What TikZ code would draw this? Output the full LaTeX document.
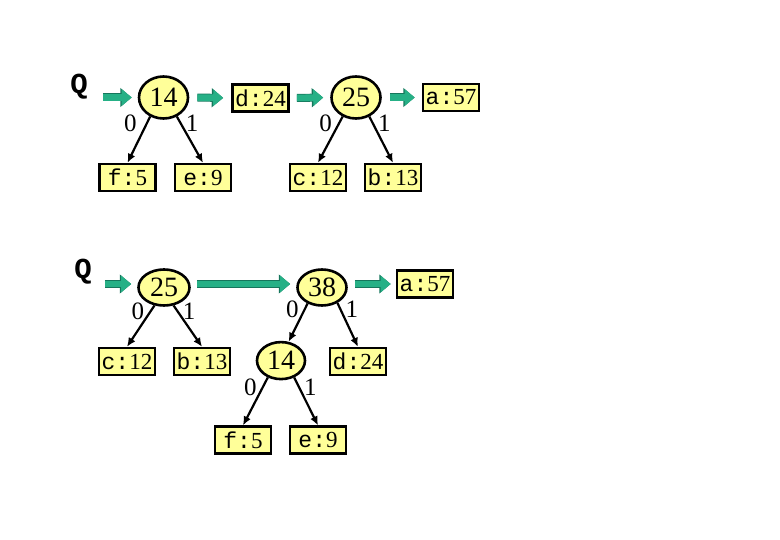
\documentclass[tikz,border=0pt]{standalone}
\usepackage{fontspec}
\setmainfont{Liberation Serif}
\setmonofont{Liberation Mono}
\usetikzlibrary{arrows.meta,positioning,shapes.geometric}
\definecolor{nodeFill}{RGB}{255,255,153}
\definecolor{queueTeal}{RGB}{38,176,134}
\definecolor{queueEdge}{RGB}{22,118,92}
\tikzset{
  leafbox/.style={draw=black, line width=2.6pt, fill=nodeFill, minimum width=56pt, minimum height=27pt, inner sep=0pt, font=\fontsize{23}{25}\selectfont},
  sumnode/.style={ellipse, draw=black, line width=2.6pt, fill=nodeFill, minimum width=49pt, minimum height=42pt, inner sep=0pt, font=\fontsize{28}{30}\selectfont},
  qlabel/.style={inner sep=0pt, font=\fontsize{29}{31}\selectfont\ttfamily\bfseries},
  bitlabel/.style={inner sep=0pt, font=\fontsize{25}{27}\selectfont},
  qflow/.style={-{Triangle[length=10pt,width=16pt]}, line width=6.6pt, draw=queueTeal,
    preaction={draw=queueEdge, line width=8pt, -{Triangle[length=11.4pt,width=18.4pt]}}},
  treeflow/.style={-{Latex[length=9pt,width=8pt]}, line width=2.2pt, draw=black}
}

\begin{document}
\begin{tikzpicture}[x=1pt, y=-1pt]
        \useasboundingbox (0,0) rectangle (780,540);
        % first queue
        \node[qlabel] (q1) at (79,87) {Q};
        \node[sumnode] (a14) at (163.5,97.5) {14};
        \node[leafbox] (ad24) at (260.5,98) {{\ttfamily d:}24};
        \node[sumnode] (a25) at (356,97.5) {25};
        \node[leafbox] (aa57) at (451,97.5) {{\ttfamily a:}57};
        \node[leafbox, below=43pt of a14, xshift=-36pt] (af5) {{\ttfamily f:}5};
        \node[leafbox, below=43pt of a14, xshift=39.5pt] (ae9) {{\ttfamily e:}9};
        \node[leafbox, below=43pt of a25, xshift=-38pt] (ac12) {{\ttfamily c:}12};
        \node[leafbox, below=43pt of a25, xshift=37pt] (ab13) {{\ttfamily b:}13};
        \draw[qflow, shorten <=15pt, shorten >=6pt] (q1.east |- a14) -- (a14.west);
        \draw[qflow, shorten <=8pt, shorten >=8pt] (a14.east) -- (ad24.west);
        \draw[qflow, shorten <=7pt, shorten >=7pt] (ad24.east) -- (a25.west);
        \draw[qflow, shorten <=8pt, shorten >=7pt] (a25.east) -- (aa57.west);
        \draw[treeflow] (a14.-125) -- node[bitlabel, pos=0.15, left=9pt] {0} (af5.north);
        \draw[treeflow] (a14.-55) -- node[bitlabel, pos=0.15, right=4pt] {1} (ae9.north);
        \draw[treeflow] (a25.-125) -- node[bitlabel, pos=0.15, left=6pt] {0} (ac12.north);
        \draw[treeflow] (a25.-55) -- node[bitlabel, pos=0.15, right=4pt] {1} (ab13.north);
        % second queue
        \node[qlabel] (q2) at (83,272) {Q};
        \node[sumnode, minimum width=51pt, minimum height=36pt] (b25) at (164,287.5) {25};
        \node[sumnode, minimum width=49pt, minimum height=36pt] (b38) at (322,287.5) {38};
        \node[leafbox] (ba57) at (425,284) {{\ttfamily a:}57};
        \node[leafbox, below=40pt of b25, xshift=-37pt] (bc12) {{\ttfamily c:}12};
        \node[leafbox, below=40pt of b25, xshift=38pt] (bb13) {{\ttfamily b:}13};
        \node[sumnode, minimum width=48pt, minimum height=37pt, below=34pt of b38, xshift=-41pt] (b14) {14};
        \node[leafbox, below=40pt of b38, xshift=36pt] (bd24) {{\ttfamily d:}24};
        \node[leafbox, below=45pt of b14, xshift=-38pt] (bf5) {{\ttfamily f:}5};
        \node[leafbox, below=45pt of b14, xshift=37pt] (be9) {{\ttfamily e:}9};
        \draw[qflow, shorten <=13pt, shorten >=6pt] (q2.east |- ba57) -- (ba57.west -| b25.west);
        \draw[qflow, shorten <=6pt, shorten >=6pt] (ba57.west -| b25.east) -- (ba57.west -| b38.west);
        \draw[qflow, shorten <=7pt, shorten >=5pt] (ba57.west -| b38.east) -- (ba57.west);
        \draw[treeflow] (b25.-118) -- node[bitlabel, pos=0.15, left=5pt] {0} (bc12.north);
        \draw[treeflow] (b25.-62) -- node[bitlabel, pos=0.15, right=4pt] {1} (bb13.north);
        \draw[treeflow] (b38.-132) -- node[bitlabel, pos=0.15, left=5pt] {0} (b14.68);
        \draw[treeflow] (b38.-45) -- node[bitlabel, pos=0.15, right=4pt] {1} (bd24.north);
        \draw[treeflow] (b14.-128) -- node[bitlabel, pos=0.2, left=5pt] {0} (bf5.north);
        \draw[treeflow] (b14.-52) -- node[bitlabel, pos=0.2, right=4pt] {1} (be9.north);
      \end{tikzpicture}
\end{document}
